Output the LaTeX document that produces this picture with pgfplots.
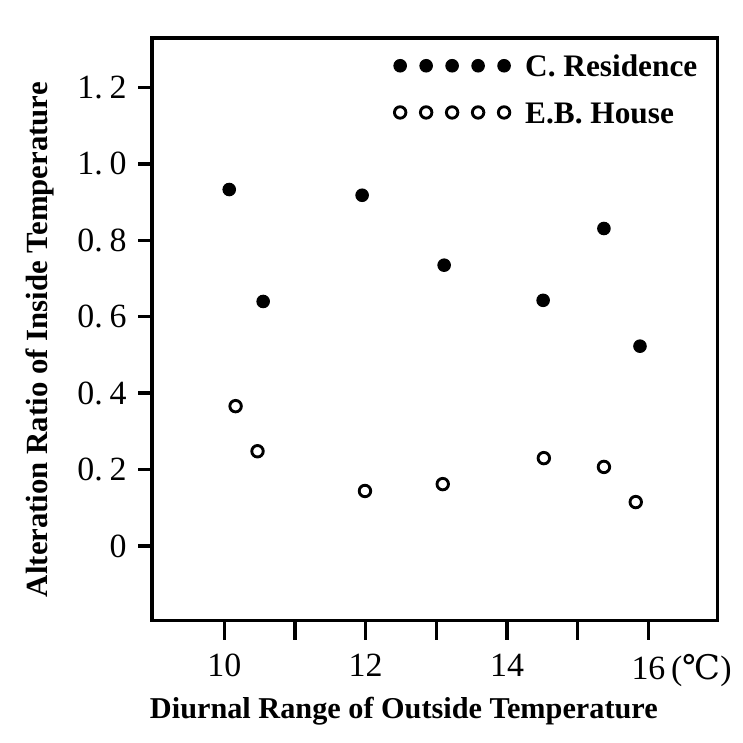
\documentclass[border=0pt]{standalone}
\usepackage{fontspec}
\setmainfont{Liberation Serif}
\newfontfamily\dejavu{DejaVu Serif}
\usepackage{pgfplots}
\pgfplotsset{compat=1.18}
\begin{document}
\begin{tikzpicture}
\begin{axis}[
  scale only axis, width=7.62cm, height=7.85cm,
  xmin=8.98, xmax=16.98, ymin=-0.195, ymax=1.33,
  axis line style={line width=1.3pt},
  tick style={line width=1.3pt, black},
  tick align=outside, tick pos=left,
  major tick length=0.22cm,
  xtick style={/pgfplots/major tick length=0.26cm},
  ytick style={/pgfplots/major tick length=0.19cm},
  xtick={10,11,12,13,14,15,16},
  xticklabels={10,,12,,14,,16\rlap{\,({\dejavu ℃})}},
  ytick={0,0.2,0.4,0.6,0.8,1.0,1.2},
  yticklabels={0,0.\hspace{0.2em}2,0.\hspace{0.2em}4,0.\hspace{0.2em}6,0.\hspace{0.2em}8,1.\hspace{0.2em}0,1.\hspace{0.2em}2},
  ticklabel style={font=\fontsize{13}{15}\selectfont},
  xticklabel style={yshift=-3pt},
  xlabel={Diurnal Range of Outside Temperature},
  ylabel={Alteration Ratio of Inside Temperature},
  every axis x label/.style={at={(axis description cs:0.445,-0.156)}, anchor=center,
    font=\fontsize{11.6}{14}\selectfont\bfseries},
  every axis y label/.style={at={(axis description cs:-0.198,0.482)}, rotate=90, anchor=center,
    font=\fontsize{11.8}{14}\selectfont\bfseries},
  legend style={draw=none, fill=none, at={(axis description cs:0.4265,0.972)}, anchor=north west,
    inner sep=0pt, row sep=9.4pt, column sep=0.2cm,
    font=\fontsize{12}{14}\selectfont\bfseries,
    nodes={inner sep=0pt, text height=8.5pt, text depth=0pt}},
  legend cell align=left,
  legend image code/.code={\draw[mark repeat=1,mark phase=1,#1] plot coordinates {(0cm,0cm) (0.35cm,0cm) (0.7cm,0cm) (1.05cm,0cm) (1.4cm,0cm)};},
]
\addplot[only marks, mark=*, mark size=2.4pt, black] coordinates {
(10.07,0.933) (10.55,0.640) (11.95,0.918) (13.11,0.735) (14.51,0.643) (15.37,0.831) (15.88,0.523)
};
\addlegendentry{C. Residence}
\addplot[only marks, mark=o, mark size=2.2pt, black, mark options={line width=1.1pt}] coordinates {
(10.16,0.366) (10.47,0.248) (11.99,0.144) (13.09,0.162) (14.52,0.230) (15.37,0.207) (15.82,0.115)
};
\addlegendentry{E.B. House}
\end{axis}
\pgfresetboundingbox
\path (-2.05cm,-1.64cm) rectangle (7.96cm,8.36cm);
\end{tikzpicture}
\end{document}
